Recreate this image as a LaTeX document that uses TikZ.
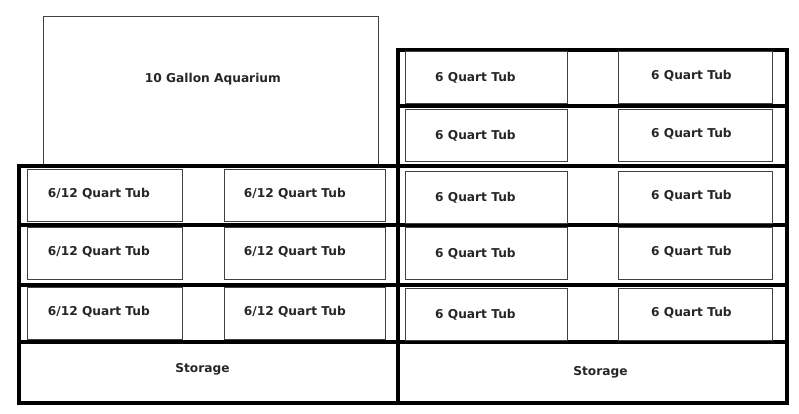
\documentclass[tikz,border=0pt]{standalone}
\usepackage{fontspec}
\setmainfont{DejaVu Sans}
\usetikzlibrary{positioning}

\begin{document}
\begin{tikzpicture}[x=1pt, y=-1pt,
		shelf/.style={draw, line width=4pt, inner sep=0pt, anchor=north west},
		txt/.style={font=\bfseries\fontsize{12.2}{13}\selectfont, text=black!85},
		tub/.style={draw=black!75, line width=0.8pt, inner sep=0pt, anchor=north west, minimum height=52pt}]
	\useasboundingbox (0,0) rectangle (799,413);
	\node[tub, minimum width=335pt, minimum height=148pt, label={[txt, yshift=11pt, xshift=2pt]center:10 Gallon Aquarium}] (aq) at (43,16) {};
	\foreach[count=\i] \top/\bot in {164/223,223/283,283/340} {
		\node[shelf, minimum width=379pt, minimum height={(\bot-\top)*1pt}] (lrow-\i) at (17,\top) {};
	}
	\foreach[count=\i] \top/\bot in {48/104,104/164,164/223,223/283,283/340} {
		\node[shelf, minimum width=389pt, minimum height={(\bot-\top)*1pt}] (rrow-\i) at (396,\top) {};
	}
	\node[shelf, minimum width=379pt, minimum height=61pt, label={[txt, xshift=-6pt, yshift=3pt]center:Storage}] (lstore) at (17,340) {};
	\node[shelf, minimum width=389pt, minimum height=61pt, label={[txt, xshift=8pt]center:Storage}] (rstore) at (396,340) {};
	\foreach[count=\j] \top in {169,227,287} {
		\node[tub, minimum width=155pt, label={[txt, xshift=-6pt, yshift=2pt]center:6/12 Quart Tub}] (l-\j-1) at (27,\top) {};
		\node[tub, minimum width=161pt, label={[txt, xshift=-10pt, yshift=2pt]center:6/12 Quart Tub}] (l-\j-2) at (224,\top) {};
	}
	\foreach[count=\j] \top in {51,109,171,227,288} {
		\node[tub, minimum width=162pt, label={[txt, xshift=-11pt]center:6 Quart Tub}] (r-\j-1) at (405,\top) {};
		\node[tub, minimum width=154pt, label={[txt, xshift=-4pt, yshift=2pt]center:6 Quart Tub}] (r-\j-2) at (618,\top) {};
	}
\end{tikzpicture}
\end{document}
